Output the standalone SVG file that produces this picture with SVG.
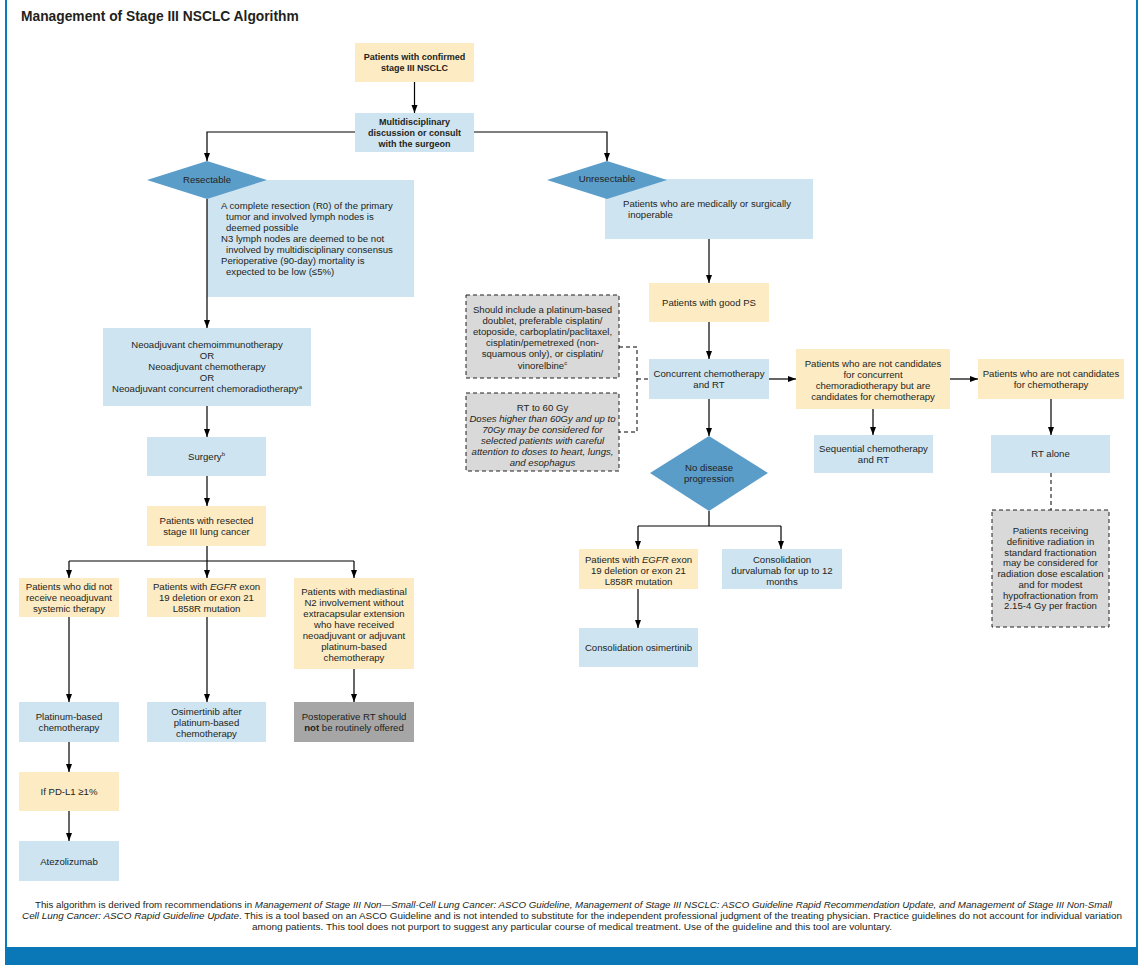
<svg xmlns="http://www.w3.org/2000/svg" width="1144" height="972" viewBox="0 0 1144 972">
<style>
text{font-family:"Liberation Sans",Arial,sans-serif;font-size:9.6px;fill:#231f20}
.c{text-anchor:middle}
.bd{font-weight:bold;font-size:9px}
.y{fill:#fdebc4}
.b{fill:#cfe4f1}
.g{fill:#d9d9d9;stroke:#231f20;stroke-width:1;stroke-dasharray:4 3}
.dg{fill:#a6a6a6}
.d{fill:#5b9dc9}
.con{stroke:#000;stroke-width:1.2;fill:none}
.arr{marker-end:url(#ah)}
.dash{stroke-dasharray:4 3;stroke-width:1}
.it{font-style:italic}
.sup{font-size:6px}
.ft{font-size:9.3px}
</style>
<defs>
<marker id="ah" markerUnits="userSpaceOnUse" markerWidth="8" markerHeight="8" viewBox="0 0 8 8" refX="8" refY="4" orient="auto">
<path d="M0,1 L8,4 L0,7 Z" fill="#000"/>
</marker>
</defs>
<rect x="0" y="0" width="1144" height="972" fill="#fff"/>
<g id="frame">
<line x1="6" y1="0" x2="6" y2="948" stroke="#0a7bbd" stroke-width="2"/>
<line x1="1137" y1="0" x2="1137" y2="948" stroke="#0a7bbd" stroke-width="2"/>
<rect x="5" y="947" width="1133" height="18" fill="#0a78b6"/>
</g>
<text x="21" y="21" style="font-weight:bold;font-size:13.8px">Management of Stage III NSCLC Algorithm</text>

<g id="n-confirmed"><rect class="y" x="355" y="43" width="119" height="39"/>
<text class="c bd" x="414.5" y="60">Patients with confirmed</text><text class="c bd" x="414.5" y="71">stage III NSCLC</text></g>
<g id="n-mdt"><rect class="b" x="355" y="113" width="119" height="39"/>
<text class="c bd" x="414.5" y="125">Multidisciplinary</text><text class="c bd" x="414.5" y="136">discussion or consult</text><text class="c bd" x="414.5" y="147">with the surgeon</text></g>

<g id="n-resectable-info"><rect class="b" x="207" y="180" width="207" height="117"/>
<text x="221" y="208.5">A complete resection (R0) of the primary</text>
<text x="226" y="219.5">tumor and involved lymph nodes is</text>
<text x="226" y="230.5">deemed possible</text>
<text x="221" y="241.5">N3 lymph nodes are deemed to be not</text>
<text x="226" y="252.5">involved by multidisciplinary consensus</text>
<text x="221" y="263.5">Perioperative (90-day) mortality is</text>
<text x="226" y="274.5">expected to be low (≤5%)</text></g>
<g id="n-resectable"><polygon class="d" points="147,180 207,161 267,180 207,199"/>
<text class="c" x="207" y="183.3">Resectable</text></g>

<g id="n-neoadj"><rect class="b" x="103" y="328" width="208" height="78"/>
<text class="c" x="207" y="348.3">Neoadjuvant chemoimmunotherapy</text>
<text class="c" x="207" y="359.3">OR</text>
<text class="c" x="207" y="370.3">Neoadjuvant chemotherapy</text>
<text class="c" x="207" y="381.3">OR</text>
<text class="c" x="207" y="392.3">Neoadjuvant concurrent chemoradiotherapy<tspan class="sup" dy="-3.5">a</tspan></text></g>
<g id="n-surgery"><rect class="b" x="147" y="437" width="119" height="39"/>
<text class="c" x="206.5" y="459.5">Surgery<tspan class="sup" dy="-3.5">b</tspan></text></g>
<g id="n-resected"><rect class="y" x="147" y="506" width="119" height="40"/>
<text class="c" x="206.5" y="523.5">Patients with resected</text><text class="c" x="206.5" y="534.5">stage III lung cancer</text></g>

<g id="n-noneo"><rect class="y" x="19" y="578" width="100" height="39"/>
<text class="c" x="69" y="589.5">Patients who did not</text><text class="c" x="69" y="600.5">receive neoadjuvant</text><text class="c" x="69" y="611.5">systemic therapy</text></g>
<g id="n-egfr-l"><rect class="y" x="147" y="578" width="119" height="39"/>
<text class="c" x="206.5" y="589.5">Patients with <tspan class="it">EGFR</tspan> exon</text><text class="c" x="206.5" y="600.5">19 deletion or exon 21</text><text class="c" x="206.5" y="611.5">L858R mutation</text></g>
<g id="n-n2"><rect class="y" x="294" y="578" width="120" height="91"/>
<text class="c" x="354" y="594.5">Patients with mediastinal</text>
<text class="c" x="354" y="605.5">N2 involvement without</text>
<text class="c" x="354" y="616.5">extracapsular extension</text>
<text class="c" x="354" y="627.5">who have received</text>
<text class="c" x="354" y="638.5">neoadjuvant or adjuvant</text>
<text class="c" x="354" y="649.5">platinum-based</text>
<text class="c" x="354" y="660.5">chemotherapy</text></g>

<g id="n-platinum"><rect class="b" x="19" y="702" width="100" height="40"/>
<text class="c" x="69" y="719.5">Platinum-based</text><text class="c" x="69" y="730.5">chemotherapy</text></g>
<g id="n-osim-after"><rect class="b" x="147" y="702" width="119" height="40"/>
<text class="c" x="206.5" y="714.5">Osimertinib after</text><text class="c" x="206.5" y="725.5">platinum-based</text><text class="c" x="206.5" y="736.5">chemotherapy</text></g>
<g id="n-port"><rect class="dg" x="294" y="702" width="120" height="40"/>
<text class="c" x="354" y="719.5">Postoperative RT should</text><text class="c" x="354" y="730.5"><tspan font-weight="bold">not</tspan> be routinely offered</text></g>
<g id="n-pdl1"><rect class="y" x="19" y="772" width="100" height="39"/>
<text class="c" x="69" y="795">If PD-L1 ≥1%</text></g>
<g id="n-atezo"><rect class="b" x="19" y="841" width="100" height="40"/>
<text class="c" x="69" y="864.5">Atezolizumab</text></g>

<g id="n-unres-info"><rect class="b" x="605" y="179" width="208" height="60"/>
<text x="623" y="206.5">Patients who are medically or surgically</text>
<text x="628" y="217.5">inoperable</text></g>
<g id="n-unresectable"><polygon class="d" points="547,180 607,161 667,180 607,199"/>
<text class="c" x="607" y="182.3">Unresectable</text></g>
<g id="n-goodps"><rect class="y" x="649" y="283" width="120" height="39"/>
<text class="c" x="709" y="306">Patients with good PS</text></g>
<g id="n-platdoublet"><rect class="g" x="466" y="295" width="153" height="83"/>
<text class="c" x="542.5" y="313.3">Should include a platinum-based</text>
<text class="c" x="542.5" y="324.3">doublet, preferable cisplatin/</text>
<text class="c" x="542.5" y="335.3">etoposide, carboplatin/paclitaxel,</text>
<text class="c" x="542.5" y="346.3">cisplatin/pemetrexed (non-</text>
<text class="c" x="542.5" y="357.3">squamous only), or cisplatin/</text>
<text class="c" x="542.5" y="368.6">vinorelbine<tspan class="sup" dy="-3.5">c</tspan></text></g>
<g id="n-rt60"><rect class="g" x="466" y="393" width="153" height="78"/>
<text class="c" x="542.5" y="411.3">RT to 60 Gy</text>
<text class="c it" x="542.5" y="422.3">Doses higher than 60Gy and up to</text>
<text class="c it" x="542.5" y="433.3">70Gy may be considered for</text>
<text class="c it" x="542.5" y="444.3">selected patients with careful</text>
<text class="c it" x="542.5" y="455.3">attention to doses to heart, lungs,</text>
<text class="c it" x="542.5" y="466.3">and esophagus</text></g>
<g id="n-concurrent"><rect class="b" x="649" y="359" width="120" height="40"/>
<text class="c" x="709" y="377">Concurrent chemotherapy</text><text class="c" x="709" y="388">and RT</text></g>
<g id="n-notccrt"><rect class="y" x="796" y="349" width="154" height="60"/>
<text class="c" x="873" y="366.5">Patients who are not candidates</text>
<text class="c" x="873" y="377.5">for concurrent</text>
<text class="c" x="873" y="388.5">chemoradiotherapy but are</text>
<text class="c" x="873" y="399.5">candidates for chemotherapy</text></g>
<g id="n-notchemo"><rect class="y" x="978" y="359" width="146" height="40"/>
<text class="c" x="1051" y="377">Patients who are not candidates</text><text class="c" x="1051" y="388">for chemotherapy</text></g>
<g id="n-sequential"><rect class="b" x="814" y="435" width="119" height="38"/>
<text class="c" x="873.5" y="452">Sequential chemotherapy</text><text class="c" x="873.5" y="463">and RT</text></g>
<g id="n-rtalone"><rect class="b" x="991" y="435" width="119" height="38"/>
<text class="c" x="1050.5" y="457.3">RT alone</text></g>
<g id="n-doseesc"><rect class="g" x="992" y="510" width="117" height="117"/>
<text class="c" x="1050.5" y="534.3">Patients receiving</text>
<text class="c" x="1050.5" y="545">definitive radiation in</text>
<text class="c" x="1050.5" y="555.7">standard fractionation</text>
<text class="c" x="1050.5" y="566.4">may be considered for</text>
<text class="c" x="1050.5" y="577.1">radiation dose escalation</text>
<text class="c" x="1050.5" y="587.8">and for modest</text>
<text class="c" x="1050.5" y="598.5">hypofractionation from</text>
<text class="c" x="1050.5" y="609.2">2.15-4 Gy per fraction</text></g>
<g id="n-nodp"><polygon class="d" points="650,473 709,436 768,473 709,511"/>
<text class="c" x="709" y="471.3">No disease</text><text class="c" x="709" y="482.3">progression</text></g>
<g id="n-egfr-r"><rect class="y" x="579" y="549" width="119" height="40"/>
<text class="c" x="638.5" y="562.5">Patients with <tspan class="it">EGFR</tspan> exon</text><text class="c" x="638.5" y="573.5">19 deletion or exon 21</text><text class="c" x="638.5" y="584.5">L858R mutation</text></g>
<g id="n-durva"><rect class="b" x="722" y="549" width="120" height="40"/>
<text class="c" x="782" y="562.5">Consolidation</text><text class="c" x="782" y="573.5">durvalumab for up to 12</text><text class="c" x="782" y="584.5">months</text></g>
<g id="n-osim-cons"><rect class="b" x="579" y="628" width="119" height="39"/>
<text class="c" x="638.5" y="650.5">Consolidation osimertinib</text></g>

<g id="connectors">
<path class="con arr" d="M414.5,82 V113"/>
<path class="con arr" d="M355,132 H207 V161"/>
<path class="con arr" d="M474,132 H607 V161"/>
<path class="con arr" d="M207,199 V328"/>
<path class="con arr" d="M207,406 V437"/>
<path class="con arr" d="M207,476 V506"/>
<path class="con" d="M207,546 V561 M69,561 H354"/>
<path class="con arr" d="M69,561 V578"/>
<path class="con arr" d="M207,561 V578"/>
<path class="con arr" d="M354,561 V578"/>
<path class="con arr" d="M69,617 V702"/>
<path class="con arr" d="M207,617 V702"/>
<path class="con arr" d="M354,669 V702"/>
<path class="con arr" d="M69,742 V772"/>
<path class="con arr" d="M69,811 V841"/>
<path class="con arr" d="M709,239 V283"/>
<path class="con arr" d="M709,322 V359"/>
<path class="con arr" d="M769,379 H796"/>
<path class="con arr" d="M950,379 H978"/>
<path class="con arr" d="M873,409 V435"/>
<path class="con arr" d="M1051,399 V435"/>
<path class="con dash" d="M1051,473 V510"/>
<path class="con dash" d="M619,347 H637 V432 H619 M637,379 H649"/>
<path class="con arr" d="M709,399 V436"/>
<path class="con" d="M709,511 V526 M638,526 H781"/>
<path class="con arr" d="M638,526 V549"/>
<path class="con arr" d="M781,526 V549"/>
<path class="con arr" d="M638,589 V628"/>
</g>

<g id="footer">
<text class="ft" x="35" y="908" textLength="1077" lengthAdjust="spacingAndGlyphs">This algorithm is derived from recommendations in <tspan class="it">Management of Stage III Non—Small-Cell Lung Cancer: ASCO Guideline, Management of Stage III NSCLC: ASCO Guideline Rapid Recommendation Update, and Management of Stage III Non-Small</tspan></text>
<text class="ft" x="22" y="919" textLength="1100" lengthAdjust="spacingAndGlyphs"><tspan class="it">Cell Lung Cancer: ASCO Rapid Guideline Update</tspan>. This is a tool based on an ASCO Guideline and is not intended to substitute for the independent professional judgment of the treating physician. Practice guidelines do not account for individual variation</text>
<text class="ft" x="252" y="930" textLength="640" lengthAdjust="spacingAndGlyphs">among patients. This tool does not purport to suggest any particular course of medical treatment. Use of the guideline and this tool are voluntary.</text>
</g>
</svg>
